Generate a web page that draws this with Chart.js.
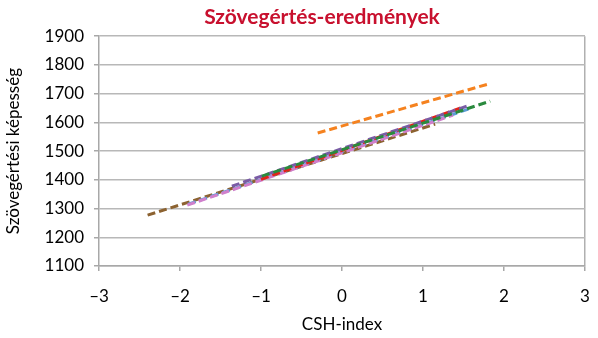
<!DOCTYPE html>
<html>
<head>
<meta charset="utf-8">
<script src="https://cdn.jsdelivr.net/npm/chart.js@4/dist/chart.umd.min.js"></script>
<style>
  html, body { margin: 0; padding: 0; background: #fff; }
  #wrap { width: 598px; height: 338px; }
</style>
</head>
<body>
<div id="wrap"><canvas id="chart" width="598" height="338"></canvas></div>
<script>
// regression lines: start and end of each fitted line
var greenX = [-0.99, 1.83];
var greenY = [1413, 1674];
var purpleX = [-1.36, 1.58];
var purpleY = [1378, 1660];
var redX = [-1.0, 1.49];
var redY = [1402, 1653];
var pinkX = [-1.91, 1.37];
var pinkY = [1312, 1625];
var blueX = [-1.90, 1.60];
var blueY = [1315, 1650];
var brownX = [-2.40, 1.15];
var brownY = [1277, 1594];
var orangeX = [-0.30, 1.80];
var orangeY = [1563, 1733];

var yTicks = [1100, 1200, 1300, 1400, 1500, 1600, 1700, 1800, 1900];
var xTicks = [-3, -2, -1, 0, 1, 2, 3];

var fontFamily = "Lato, 'Open Sans', sans-serif";

function points(xs, ys) {
    var out = [];
    for (var i = 0; i < xs.length; i++) {
        out.push({ x: xs[i], y: ys[i] });
    }
    return out;
}

function dashed(xs, ys, color) {
    return {
        data: points(xs, ys),
        borderColor: color,
        backgroundColor: color,
        borderWidth: 3,
        borderDash: [8, 4],
        pointRadius: 0,
        fill: false,
        tension: 0
    };
}

// first dataset is painted last, so it sits on top
var datasets = [
    dashed(greenX, greenY, "#2a8a3e"),
    dashed(purpleX, purpleY, "#7a5ca6"),
    dashed(redX, redY, "#e2231a"),
    dashed(pinkX, pinkY, "#d07fcc"),
    dashed(blueX, blueY, "#5b9bd5"),
    dashed(brownX, brownY, "#8c6230"),
    dashed(orangeX, orangeY, "#f5821f")
];

// nudge the title a bit right of the canvas centre
var shiftTitle = {
    id: "shiftTitle",
    afterLayout: function(chart) {
        if (chart.titleBlock) {
            chart.titleBlock.left = 46;
            chart.titleBlock.right = chart.width;
        }
    }
};

new Chart(document.getElementById("chart"), {
    type: "line",
    data: { datasets: datasets },
    plugins: [shiftTitle],
    options: {
        responsive: false,
        animation: false,
        layout: { padding: { left: 0, right: 13, top: 0, bottom: 0 } },
        plugins: {
            legend: { display: false },
            tooltip: { enabled: false },
            title: {
                display: true,
                text: "Szövegértés-eredmények",
                color: "#c8102e",
                font: { family: fontFamily, size: 21, weight: "bold" },
                padding: { top: 5, bottom: 6 }
            }
        },
        scales: {
            x: {
                type: "linear",
                min: -3,
                max: 3,
                afterBuildTicks: function(scale) {
                    scale.ticks = xTicks.map(function(v) { return { value: v }; });
                },
                afterFit: function(scale) {
                    scale.height = 72;
                    // the last label fits inside the right margin already
                    scale.paddingLeft = 0;
                    scale.paddingRight = 0;
                },
                ticks: {
                    color: "#000",
                    font: { family: fontFamily, size: 17 },
                    padding: 15,
                    maxRotation: 0,
                    callback: function(v) {
                        return v < 0 ? "\u2013" + Math.abs(v) : String(v);
                    }
                },
                grid: {
                    drawOnChartArea: true,
                    tickLength: 5,
                    color: function(ctx) {
                        return ctx.tick && ctx.tick.value === 3 ? "#b0b0b0" : "rgba(0,0,0,0)";
                    },
                    tickColor: "#a8a8a8",
                    lineWidth: 1.5
                },
                border: { color: "#a8a8a8", width: 1.5 },
                title: {
                    display: true,
                    text: "CSH-index",
                    color: "#000",
                    font: { family: fontFamily, size: 17 },
                    padding: { top: 4, bottom: 3 }
                }
            },
            y: {
                min: 1100,
                max: 1900,
                afterBuildTicks: function(scale) {
                    scale.ticks = yTicks.map(function(v) { return { value: v }; });
                },
                afterFit: function(scale) { scale.width = 99; },
                ticks: {
                    color: "#000",
                    font: { family: fontFamily, size: 17 },
                    padding: 10,
                    callback: function(v) { return String(v); }
                },
                grid: {
                    color: "#b8b8b8",
                    tickColor: "#a8a8a8",
                    tickLength: 5,
                    lineWidth: 1.5
                },
                border: { color: "#a8a8a8", width: 1.5 },
                title: {
                    display: true,
                    text: "Szövegértési képesség",
                    color: "#000",
                    font: { family: fontFamily, size: 17 },
                    padding: { top: 3, bottom: 4 }
                }
            }
        }
    }
});
</script>
</body>
</html>
